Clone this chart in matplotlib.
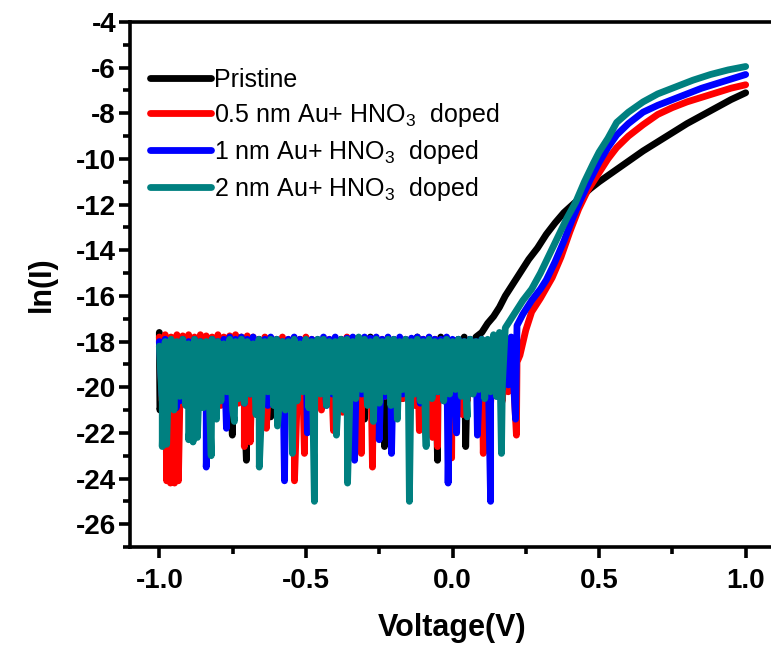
import numpy as np
import matplotlib
matplotlib.use("Agg")
import matplotlib.pyplot as plt
from matplotlib.lines import Line2D
from matplotlib.ticker import MultipleLocator

plt.rcParams['font.family'] = ['Liberation Sans', 'DejaVu Sans']
plt.rcParams['mathtext.fontset'] = 'custom'
plt.rcParams['mathtext.rm'] = 'Liberation Sans'
plt.rcParams['mathtext.it'] = 'Liberation Sans:italic'
plt.rcParams['mathtext.bf'] = 'Liberation Sans:bold'
plt.rcParams['axes.unicode_minus'] = False

# ---------------------------------------------------------------------------
# Measured ln(I) traces.  The low-bias noise floor is sampled every 10 mV,
# alternating an upper reading (even hundredths, from -1.00 V) and a lower
# reading (odd hundredths, from -0.99 V); isolated drop-outs are listed
# separately, followed by the forward-bias rise.
# ---------------------------------------------------------------------------
labels = ["Pristine",
          "0.5 nm Au+ HNO$_3$  doped",
          "1 nm Au+ HNO$_3$  doped",
          "2 nm Au+ HNO$_3$  doped"]
colors = ["#000000", "#ff0000", "#0000ff", "#008080"]

# Pristine
pristine_hi = [-17.6, -18.0, -18.1, -17.9, -18.0, -18.1, -17.9, -18.0, -18.1, -18.0,
               -17.9, -18.1, -18.0, -17.9, -18.0, -18.1, -18.0, -17.9, -18.1, -18.0,
               -18.0, -17.9, -18.1, -18.0, -17.9, -18.0, -18.1, -18.0, -17.9, -18.0,
               -18.1, -17.9, -18.0, -17.9, -18.0, -18.0, -17.8, -17.9, -18.0, -17.9,
               -18.0, -17.9, -18.0, -17.9, -17.8, -17.9, -18.0, -17.9, -17.8, -17.9,
               -18.0, -17.9, -17.8, -17.9, -17.8]
pristine_lo = [-20.5, -20.2, -20.7, -20.3, -20.6, -20.1, -20.4, -20.8, -20.2, -20.5,
               -20.3, -20.6, -20.1, -20.4, -20.8, -20.3, -20.5, -20.2, -20.6, -20.3,
               -20.1, -20.5, -20.3, -20.7, -20.2, -20.4, -20.6, -20.1, -20.5, -20.3,
               -20.6, -20.2, -20.4, -20.7, -20.3, -20.5, -20.1, -20.6, -20.3, -20.4,
               -20.2, -20.5, -20.3, -20.6, -20.1, -20.4, -20.2, -20.5, -20.0, -20.3,
               -19.9, -20.2, -19.8, -19.5]
pristine_drop_v = [-0.998, -0.751, -0.703, -0.620, -0.300, -0.232, -0.051, 0.045]
pristine_drop_y = [-21.0, -22.1, -23.2, -21.3, -21.4, -22.6, -23.2, -22.6]
pristine_rise_v = [0.10, 0.12, 0.14, 0.16, 0.18, 0.20, 0.23, 0.26, 0.29, 0.32, 0.35,
                   0.38, 0.41, 0.44, 0.47, 0.50, 0.55, 0.60, 0.65, 0.70, 0.75, 0.80,
                   0.85, 0.90, 0.95, 1.00]
pristine_rise_y = [-17.6, -17.2, -16.9, -16.5, -16.0, -15.6, -15.0, -14.4, -13.9, -13.3,
                   -12.8, -12.35, -12.0, -11.65, -11.3, -11.0, -10.55, -10.1, -9.65,
                   -9.25, -8.85, -8.45, -8.1, -7.75, -7.4, -7.1]

# 0.5 nm Au + HNO3
au05_hi = [-17.8, -17.7, -17.8, -17.7, -17.75, -17.7, -17.8, -17.7, -17.75, -17.8,
           -17.7, -17.8, -17.75, -17.7, -17.8, -17.75, -17.8, -17.9, -17.8, -17.9,
           -17.9, -17.8, -17.9, -18.0, -17.9, -17.8, -17.9, -18.0, -17.9, -17.9,
           -18.0, -17.9, -17.8, -17.9, -18.0, -17.9, -17.9, -18.0, -17.9, -18.0,
           -17.9, -18.0, -17.9, -18.0, -18.0, -17.9, -18.0, -17.9, -18.0, -18.0,
           -18.1, -18.0, -18.1, -18.0, -18.2, -18.1, -18.3, -18.3, -18.5, -18.6,
           -18.7, -18.9]
au05_lo = [-20.6, -20.9, -20.3, -20.7, -20.4, -20.8, -20.2, -20.6, -20.5, -20.3,
           -20.8, -20.4, -20.2, -20.7, -20.5, -20.3, -20.9, -20.4, -20.6, -20.2,
           -20.5, -20.8, -20.3, -20.6, -20.2, -20.7, -20.4, -20.8, -20.3, -20.5,
           -20.7, -20.2, -20.6, -20.4, -20.8, -20.5, -20.2, -20.7, -20.4, -20.3,
           -20.6, -20.5, -20.2, -20.8, -20.4, -20.3, -20.7, -20.2, -20.5, -20.8,
           -20.4, -20.3, -20.6, -20.2, -20.5, -20.4, -20.7, -20.3, -20.6, -20.2,
           -20.1]
au05_drop_v = [-0.975, -0.962, -0.948, -0.935, -0.710, -0.690, -0.635, -0.539, -0.505,
               -0.447, -0.406, -0.375, -0.311, -0.273, -0.113, -0.068, -0.051, -0.003,
               0.034, 0.105, 0.218]
au05_drop_y = [-24.1, -24.2, -24.2, -24.1, -22.6, -22.4, -21.8, -24.1, -22.9,
               -21.0, -21.9, -21.1, -22.9, -23.5, -21.9, -22.2, -22.6, -23.1,
               -21.2, -22.9, -22.1]
au05_rise_v = [0.23, 0.25, 0.27, 0.30, 0.34, 0.37, 0.40, 0.43, 0.46, 0.50, 0.53, 0.56,
               0.60, 0.65, 0.70, 0.75, 0.80, 0.85, 0.90, 0.95, 1.00]
au05_rise_y = [-18.6, -17.5, -16.7, -16.1, -15.2, -14.3, -13.2, -12.2, -11.4, -10.6,
               -10.0, -9.5, -9.0, -8.5, -8.05, -7.75, -7.5, -7.3, -7.1, -6.9, -6.75]

# 1 nm Au + HNO3
au1_hi = [-18.0, -17.9, -18.0, -18.1, -17.9, -18.0, -17.9, -18.0, -18.1, -17.9,
          -18.0, -17.9, -17.8, -17.9, -17.8, -17.9, -17.8, -17.9, -17.9, -17.8,
          -17.9, -18.0, -17.9, -17.8, -17.9, -18.0, -17.9, -17.9, -17.8, -17.9,
          -17.8, -17.9, -17.85, -17.8, -17.9, -17.8, -17.85, -17.8, -17.9, -17.8,
          -17.9, -17.8, -17.9, -17.85, -17.8, -17.9, -17.8, -17.9, -17.9, -17.8,
          -17.9, -17.9, -18.0, -17.9, -18.0, -17.9, -18.0, -17.9, -18.0, -17.9,
          -17.8]
au1_lo = [-20.4, -20.7, -20.2, -20.6, -20.3, -20.8, -20.1, -20.5, -20.3, -20.7,
          -20.2, -20.6, -20.4, -20.1, -20.7, -20.3, -20.5, -20.2, -20.8, -20.4,
          -20.2, -20.6, -20.3, -20.5, -20.1, -20.7, -20.4, -20.2, -20.6, -20.3,
          -20.8, -20.4, -20.2, -20.5, -20.3, -20.7, -20.1, -20.5, -20.4, -20.2,
          -20.6, -20.3, -20.5, -20.1, -20.7, -20.3, -20.4, -20.2, -20.6, -20.3,
          -20.5, -20.2, -20.4, -20.1, -20.5, -20.3, -20.2, -20.4, -20.1, -19.9]
au1_drop_v = [-0.942, -0.840, -0.771, -0.614, -0.573, -0.495, -0.430, -0.334, -0.250,
              -0.208, -0.015, 0.014, 0.085, 0.130, 0.215]
au1_drop_y = [-20.9, -23.5, -21.8, -20.6, -24.1, -22.0, -20.8, -23.2, -22.3,
              -22.9, -24.2, -22.0, -22.1, -25.0, -21.4]
au1_rise_v = [0.22, 0.24, 0.27, 0.30, 0.32, 0.35, 0.38, 0.41, 0.44, 0.47, 0.50, 0.53,
              0.56, 0.60, 0.65, 0.70, 0.75, 0.80, 0.85, 0.90, 0.95, 1.00]
au1_rise_y = [-17.3, -16.8, -16.2, -15.7, -15.3, -14.5, -13.6, -12.6, -11.7, -10.9,
              -10.15, -9.5, -8.95, -8.45, -7.95, -7.65, -7.4, -7.15, -6.9, -6.7,
              -6.5, -6.3]

# 2 nm Au + HNO3
au2_hi = [-18.2, -18.0, -17.9, -18.0, -17.9, -18.1, -17.9, -18.0, -18.0, -17.9,
          -18.0, -18.1, -17.9, -18.0, -17.9, -18.0, -18.1, -17.9, -18.0, -17.9,
          -17.9, -18.0, -18.0, -17.9, -18.1, -17.9, -18.0, -17.9, -17.9, -18.0,
          -18.0, -17.9, -17.9, -18.0, -17.8, -17.9, -18.0, -17.9, -18.0, -17.9,
          -17.9, -18.0, -17.9, -18.0, -17.9, -18.0, -17.9, -18.0, -18.0, -17.9,
          -18.0, -17.9, -18.0, -17.9, -18.0, -17.9, -17.9, -17.7, -17.6, -17.4]
au2_lo = [-20.7, -20.3, -21.0, -20.4, -20.8, -21.1, -20.5, -20.9, -20.3, -20.8,
          -20.6, -20.2, -21.0, -20.5, -20.7, -20.3, -21.2, -20.6, -20.2, -20.8,
          -20.5, -21.0, -20.3, -20.6, -20.2, -20.9, -20.5, -20.3, -20.8, -20.2,
          -20.6, -21.0, -20.4, -20.5, -20.1, -20.8, -20.4, -20.7, -20.2, -20.8,
          -20.4, -20.1, -20.7, -20.3, -20.6, -20.1, -20.5, -20.2, -20.6, -20.3,
          -20.1, -20.4, -20.0, -20.3, -20.1, -20.5, -20.2, -20.4, -19.9]
au2_drop_v = [-0.990, -0.975, -0.900, -0.885, -0.870, -0.823, -0.805, -0.744, -0.659,
              -0.597, -0.546, -0.471, -0.396, -0.358, -0.270, -0.188, -0.147, -0.090,
              0.050, 0.167]
au2_drop_y = [-22.6, -22.5, -22.3, -22.4, -22.2, -23.0, -21.4, -21.5, -23.5,
              -21.7, -22.9, -25.0, -22.1, -24.2, -21.5, -21.4, -25.0, -22.6,
              -21.3, -22.9]
au2_rise_v = [0.21, 0.24, 0.27, 0.30, 0.33, 0.36, 0.39, 0.42, 0.45, 0.48, 0.50, 0.53,
              0.56, 0.60, 0.65, 0.70, 0.76, 0.82, 0.88, 0.94, 1.00]
au2_rise_y = [-16.8, -16.2, -15.7, -15.0, -14.2, -13.4, -12.6, -11.9, -11.0, -10.2,
              -9.7, -9.1, -8.4, -7.95, -7.5, -7.15, -6.85, -6.55, -6.3, -6.1, -5.95]


def trace(hi, lo, drop_v, drop_y, rise_v, rise_y):
    v_hi = -1.00 + 0.02 * np.arange(len(hi))
    v_lo = -0.99 + 0.02 * np.arange(len(lo))
    v = np.concatenate([v_hi, v_lo, np.asarray(drop_v, float)])
    y = np.concatenate([hi, lo, drop_y])
    order = np.argsort(v, kind="stable")
    return (np.concatenate([v[order], rise_v]),
            np.concatenate([y[order], rise_y]))


series = [
    trace(pristine_hi, pristine_lo, pristine_drop_v, pristine_drop_y,
          pristine_rise_v, pristine_rise_y),
    trace(au05_hi, au05_lo, au05_drop_v, au05_drop_y, au05_rise_v, au05_rise_y),
    trace(au1_hi, au1_lo, au1_drop_v, au1_drop_y, au1_rise_v, au1_rise_y),
    trace(au2_hi, au2_lo, au2_drop_v, au2_drop_y, au2_rise_v, au2_rise_y),
]

fig = plt.figure(figsize=(7.71, 6.45), dpi=100)
ax = fig.add_axes([130 / 771, 98 / 645, 645 / 771, 525 / 645])

lw = 4.9
for (v, y), c in zip(series, colors):
    ax.plot(v, y, color=c, lw=lw, solid_joinstyle="round",
            solid_capstyle="round")

ax.set_xlim(-1.1, 1.1)
ax.set_ylim(-27, -4)
ax.xaxis.set_minor_locator(MultipleLocator(0.25))
ax.yaxis.set_minor_locator(MultipleLocator(1))
ax.set_xticks([-1.0, -0.5, 0.0, 0.5, 1.0])
ax.set_xticklabels(["-1.0", "-0.5", "0.0", "0.5", "1.0"])
ax.set_yticks(np.arange(-26, -3, 2))
ax.set_yticklabels([str(t) for t in range(-26, -3, 2)])

for s in ax.spines.values():
    s.set_linewidth(2.6)
ax.tick_params(which="major", direction="out", length=8, width=2.6,
               labelsize=20)
ax.tick_params(which="minor", direction="out", length=5, width=2.6)
ax.tick_params(axis="y", which="major", pad=2)
ax.tick_params(axis="x", which="major", pad=7)
for lab in ax.get_xticklabels() + ax.get_yticklabels():
    lab.set_fontweight("bold")

ax.set_xlabel("Voltage(V)", fontsize=22, fontweight="bold", labelpad=14)
ax.set_ylabel("ln(I)", fontsize=22, fontweight="bold", labelpad=14)

handles = [Line2D([], [], color=c, lw=lw, solid_capstyle="round") for c in colors]
ax.legend(handles, labels, loc="upper left", bbox_to_anchor=(0.031, 0.912),
          frameon=False, fontsize=18, handlelength=2.45, handletextpad=0.12,
          labelspacing=0.36, borderaxespad=0.0, borderpad=0.0)

fig.savefig("out.png", dpi=100)
